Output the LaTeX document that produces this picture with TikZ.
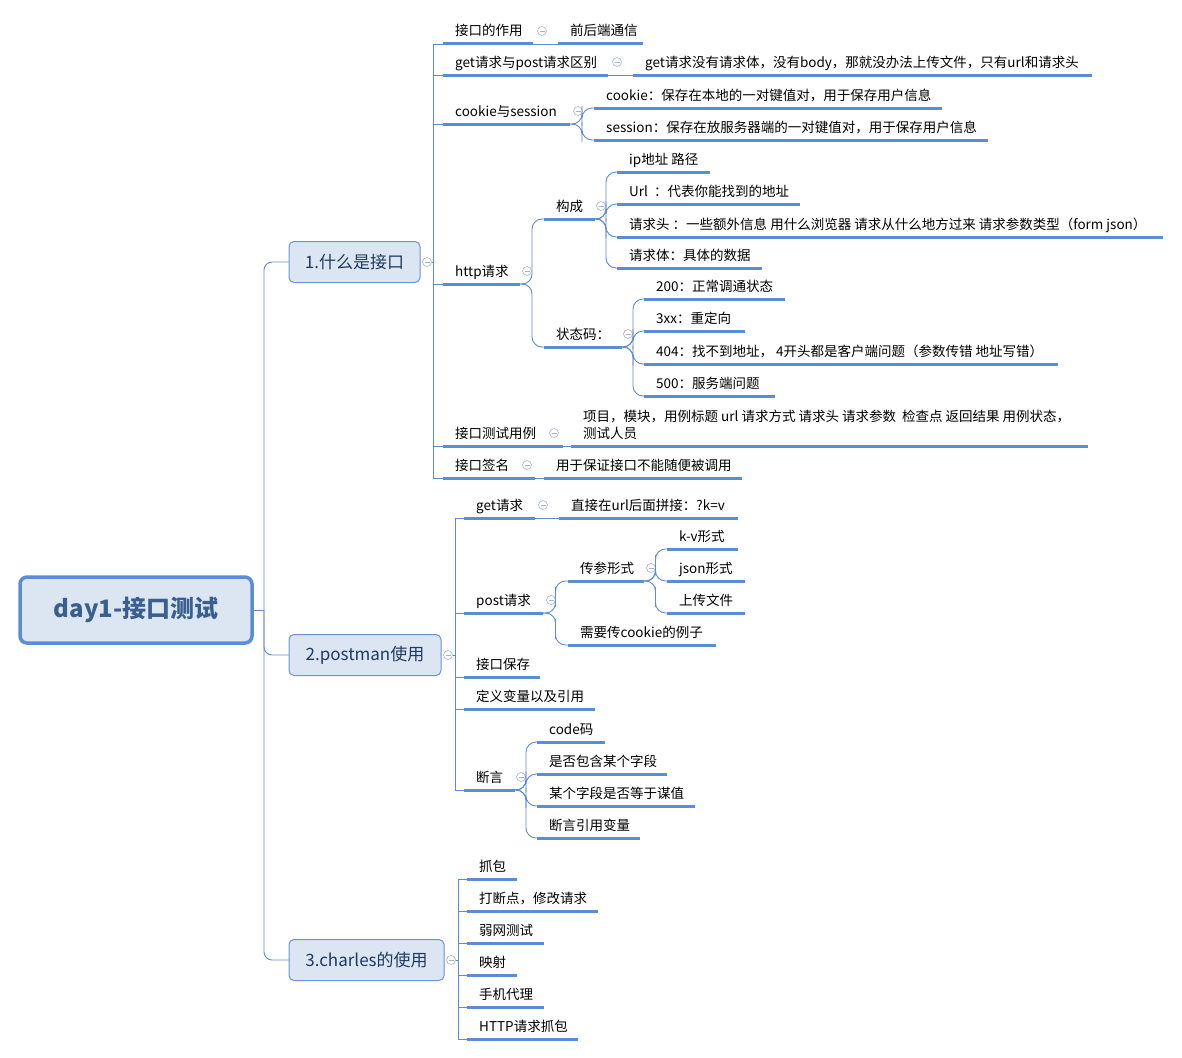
\documentclass[tikz,border=0pt]{standalone}
\usepackage{fontspec}
\setmainfont{Noto Sans CJK SC}
\usetikzlibrary{calc}
\definecolor{ulc}{HTML}{5A8DD6}
\definecolor{connc}{HTML}{5F8ACB}
\definecolor{boxfill}{HTML}{DCE6F2}
\definecolor{boxdraw}{HTML}{6A93D4}
\definecolor{roottext}{HTML}{3A5F8F}
\definecolor{branchtext}{HTML}{1F3A5F}
\definecolor{colc}{HTML}{A3B5D6}
\tikzset{
  ul/.style={draw=ulc, line width=3pt},
  conn/.style={draw=connc, line width=0.9pt},
  elbow/.style={conn, rounded corners=10pt},
  leaftxt/.style={inner sep=0pt, font=\fontsize{13.5}{17}\selectfont, text=black},
  rootbox/.style={draw=ulc, line width=3.5pt, fill=boxfill, rounded corners=7pt,
    minimum width=232pt, minimum height=66pt, text=roottext,
    font=\fontsize{24}{28}\selectfont\bfseries},
  branchbox/.style={draw=boxdraw, line width=1pt, fill=boxfill, rounded corners=5pt,
    minimum height=41pt, text=branchtext, font=\fontsize{17}{20}\selectfont},
  collapse/.style={circle, draw=colc, fill=white, line width=0.6pt, minimum size=9pt, inner sep=0pt,
    path picture={\draw[colc, line width=0.6pt] ([xshift=-2.5pt]path picture bounding box.center) -- ([xshift=2.5pt]path picture bounding box.center);}}
}
\newcommand{\leaf}[5]{%
  \coordinate (#1-s) at (#2,#4);
  \coordinate (#1-e) at (#3,#4);
  \draw[ul] (#1-s) -- (#1-e);
  \node[leaftxt, anchor=base west] (#1) at ([xshift=12pt,yshift=8pt]#1-s) {#5};
}
\begin{document}
\begin{tikzpicture}[x=1pt,y={(0pt,-1pt)}]
\useasboundingbox (0,0) rectangle (1182,1057);

% root and branches
\node[rootbox] (root) at (136,610) {day1-接口测试};
\node[branchbox, minimum width=131pt] (b1) at (354.5,262) {1.什么是接口};
\node[branchbox, minimum width=152pt] (b2) at (365,655) {2.postman使用};
\node[branchbox, minimum width=155pt] (b3) at (366.5,960) {3.charles的使用};

\coordinate (rt) at (264,610);
\draw[conn] (root.east) -- (rt);
\draw[conn, rounded corners=8pt] (rt) |- (b1.west);
\draw[conn, rounded corners=8pt] (rt) |- (b2.west);
\draw[conn, rounded corners=8pt] (rt) |- (b3.west);

% ---------- branch 1 ----------
\leaf{a1}{443}{533}{44}{接口的作用}
\leaf{a1a}{558}{643}{44}{前后端通信}
\leaf{a2}{443}{608}{75}{get请求与post请求区别}
\leaf{a2a}{633}{1092}{75}{get请求没有请求体，没有body，那就没办法上传文件，只有url和请求头}
\leaf{a3}{443}{570}{124}{cookie与session}
\leaf{a3a}{594}{942}{108}{cookie：保存在本地的一对键值对，用于保存用户信息}
\leaf{a3b}{594}{988}{140}{session：保存在放服务器端的一对键值对，用于保存用户信息}
\leaf{a4}{443}{520}{284}{http请求}
\leaf{a4a}{544}{595}{219}{构成}
\leaf{a4a1}{617}{710}{172}{ip地址 路径}
\leaf{a4a2}{617}{800}{204}{Url \ ：代表你能找到的地址}
\leaf{a4a3}{617}{1163}{237}{请求头 ：一些额外信息 用什么浏览器 请求从什么地方过来 请求参数类型（form json）}
\leaf{a4a4}{617}{762}{268}{请求体：具体的数据}
\leaf{a4b}{544}{622}{347}{状态码：}
\leaf{a4b1}{644}{785}{299}{200：正常调通状态}
\leaf{a4b2}{644}{745}{331}{3xx：重定向}
\leaf{a4b3}{644}{1058}{364}{404：找不到地址， 4开头都是客户端问题（参数传错 地址写错）}
\leaf{a4b4}{644}{775}{396}{500：服务端问题}
\leaf{a5}{443}{563}{446}{接口测试用例}
\coordinate (a5a-s) at (571,446);
\coordinate (a5a-e) at (1088,446);
\draw[ul] (a5a-s) -- (a5a-e);
\node[leaftxt, anchor=south west, align=left] (a5a) at ([xshift=12pt,yshift=6pt]a5a-s) {项目，模块，用例标题 url 请求方式 请求头 请求参数 \ 检查点 返回结果 用例状态，\\测试人员};
\leaf{a6}{443}{535}{478}{接口签名}
\leaf{a6a}{544}{742}{478}{用于保证接口不能随便被调用}

\node[collapse] (b1-c) at (427,262) {};
\node[collapse] (a1-c) at (542,31) {};
\node[collapse] (a2-c) at (617,62) {};
\node[collapse] (a3-c) at (578,111) {};
\node[collapse] (a4-c) at (527,271) {};
\node[collapse] (a4a-c) at (601,206) {};
\node[collapse] (a4b-c) at (628,334) {};
\node[collapse] (a5-c) at (554,433) {};
\node[collapse] (a6-c) at (527,465) {};

\coordinate (t1) at (433,262);
\draw[conn] (b1-c.east) -- (t1);
\foreach \n in {a1,a2,a3,a4,a5,a6} \draw[conn] (t1) |- (\n-s);
\draw[conn] (a1-e) -- (a1a-s);
\draw[conn] (a2-e) -- (a2a-s);
\draw[conn] (a5-e) -- (a5a-s);
\draw[conn] (a6-e) -- (a6a-s);
\foreach \n in {a3a,a3b} \draw[elbow] (a3-e) -| ($(a3-e)!0.5!(\n-s)$) |- (\n-s);
\foreach \n in {a4a,a4b} \draw[elbow] (a4-e) -| ($(a4-e)!0.5!(\n-s)$) |- (\n-s);
\foreach \n in {a4a1,a4a2,a4a3,a4a4} \draw[elbow] (a4a-e) -| ($(a4a-e)!0.5!(\n-s)$) |- (\n-s);
\foreach \n in {a4b1,a4b2,a4b3,a4b4} \draw[elbow] (a4b-e) -| ($(a4b-e)!0.5!(\n-s)$) |- (\n-s);

% ---------- branch 2 ----------
\leaf{p1}{464}{535}{518}{get请求}
\leaf{p1a}{559}{738}{518}{直接在url后面拼接：?k=v}
\leaf{p2}{464}{543}{613}{post请求}
\leaf{p2a}{568}{644}{581}{传参形式}
\leaf{p2a1}{667}{738}{549}{k-v形式}
\leaf{p2a2}{667}{745}{581}{json形式}
\leaf{p2a3}{667}{745}{613}{上传文件}
\leaf{p2b}{568}{716}{645}{需要传cookie的例子}
\leaf{p3}{464}{540}{677}{接口保存}
\leaf{p4}{464}{595}{709}{定义变量以及引用}
\leaf{p5}{464}{515}{790}{断言}
\leaf{p5a}{537}{605}{742}{code码}
\leaf{p5b}{537}{667}{774}{是否包含某个字段}
\leaf{p5c}{537}{695}{806}{某个字段是否等于谋值}
\leaf{p5d}{537}{640}{838}{断言引用变量}

\node[collapse] (b2-c) at (448,655) {};
\node[collapse] (p1-c) at (543,505) {};
\node[collapse] (p2-c) at (551,600) {};
\node[collapse] (p2a-c) at (651,568) {};
\node[collapse] (p5-c) at (521,777) {};

\coordinate (t2) at (455,655);
\draw[conn] (b2-c.east) -- (t2);
\foreach \n in {p1,p2,p3,p4,p5} \draw[conn] (t2) |- (\n-s);
\draw[conn] (p1-e) -- (p1a-s);
\foreach \n in {p2a,p2b} \draw[elbow] (p2-e) -| ($(p2-e)!0.5!(\n-s)$) |- (\n-s);
\foreach \n in {p2a1,p2a2,p2a3} \draw[elbow] (p2a-e) -| ($(p2a-e)!0.5!(\n-s)$) |- (\n-s);
\foreach \n in {p5a,p5b,p5c,p5d} \draw[elbow] (p5-e) -| ($(p5-e)!0.5!(\n-s)$) |- (\n-s);

% ---------- branch 3 ----------
\leaf{c1}{467}{517}{879}{抓包}
\leaf{c2}{467}{598}{911}{打断点，修改请求}
\leaf{c3}{467}{544}{943}{弱网测试}
\leaf{c4}{467}{517}{975}{映射}
\leaf{c5}{467}{544}{1007}{手机代理}
\leaf{c6}{467}{578}{1039}{HTTP请求抓包}

\node[collapse] (b3-c) at (451,960) {};
\coordinate (t3) at (458,960);
\draw[conn] (b3-c.east) -- (t3);
\foreach \n in {c1,c2,c3,c4,c5,c6} \draw[conn] (t3) |- (\n-s);
\end{tikzpicture}
\end{document}
